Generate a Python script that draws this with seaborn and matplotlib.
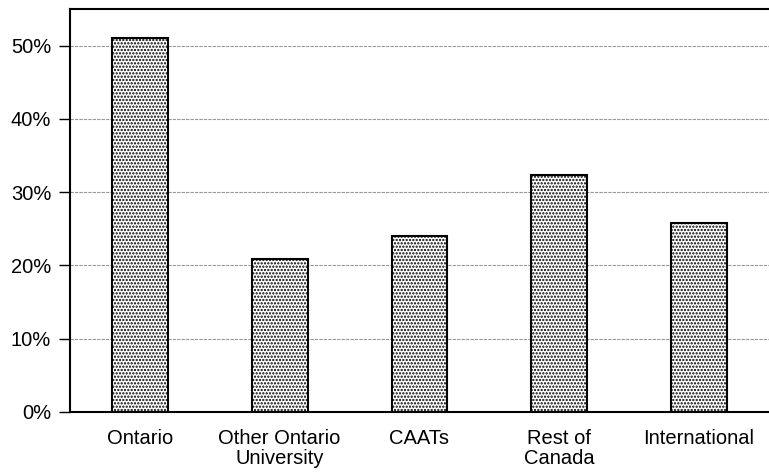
import numpy as np
import pandas as pd
import matplotlib
matplotlib.use('Agg')
import matplotlib.pyplot as plt
import seaborn as sns
from matplotlib.ticker import PercentFormatter

categories = ['Ontario', 'Other Ontario\nUniversity', 'CAATs', 'Rest of\nCanada', 'International']
shares = [51.0, 20.9, 24.0, 32.4, 25.8]

sns.set_style('white')
plt.rcParams['font.family'] = ['Liberation Sans', 'DejaVu Sans']
plt.rcParams['hatch.color'] = 'black'
plt.rcParams['hatch.linewidth'] = 1.1
plt.rcParams['text.color'] = 'black'

df = pd.DataFrame({'source': categories, 'share': shares})

fig = plt.figure(figsize=(7.69, 4.73), dpi=100)
ax = fig.add_axes([0.091, 0.129, 0.909, 0.852])
sns.barplot(data=df, x='source', y='share', color='white', edgecolor='black',
            linewidth=1.5, width=0.4, hatch='.....', saturation=1, ax=ax, zorder=3)

ax.set_ylim(0, 55)
ax.set_yticks(np.arange(0, 51, 10))
ax.yaxis.set_major_formatter(PercentFormatter(decimals=0))
ax.yaxis.grid(True, color='#999999', linestyle=(0, (3, 1)), linewidth=0.8, zorder=0)
ax.set_axisbelow(True)
ax.set_xlabel('')
ax.set_ylabel('')
ax.tick_params(axis='y', length=8, width=1, color='black', labelsize=14.5,
               labelcolor='black', left=True, pad=5.5)
ax.tick_params(axis='x', length=0, labelsize=14.5, labelcolor='black', pad=12)
for lab in ax.get_xticklabels():
    lab.set_linespacing(1.1)
for s in ['left', 'bottom', 'top']:
    ax.spines[s].set_color('black')
    ax.spines[s].set_linewidth(1.5)
ax.spines['right'].set_visible(False)

plt.savefig('out.png', dpi=100)
